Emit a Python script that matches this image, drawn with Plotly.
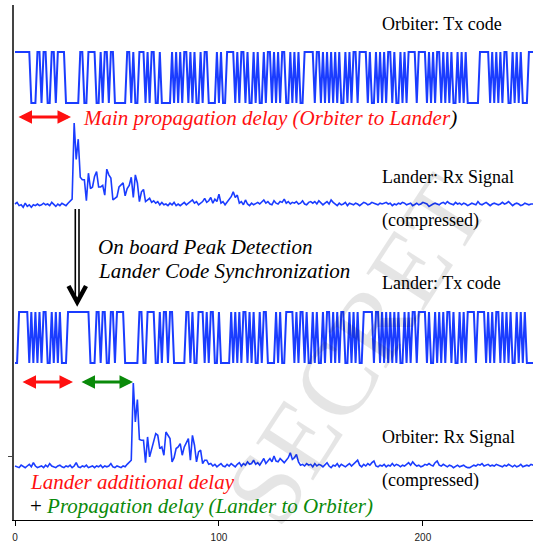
import plotly.graph_objects as go

# ---------------- data ----------------
ORBITER_TX_BITS = "".join((
    "11111111 000 11 0 11 00 11 0 1111 0000000 "
    "11 00 1111 00 1 0 11 0 11 000000 "
    "11 0 1 00 111 0 1 0 11 00 1 00000 "
    "1 0 1 0 1 0 11 0 1 0 1 00 1 0 11 0000 "
    "1 0 1 00 1111 0 1 0 11 0 1 00 1 0 "
    "1 00 1 0 11 0 1 0 1 0 11 00 1 0 1 0 1 00 "
    "11111 0 11 0 1 0 1 0 1 0 1 0 1 00 1 0 1 0 11 0 1111 0 1 00 1 0 1 0 1 0 11 0 1 00 1 0 1 0 "
    "1111 0 1111 0 1 0 1 0 11 0 1 0 1 0 1 00 1 0 1 0 1 000000 11111 0 1 0 1 0 1 0 11 00 1 0 1 0 1 000 111"
).split())

LANDER_TX_BITS = "".join((
    "00 11111 0 1 0 1 0 1 0 11 00 1 0 1 0 1 000 111 "
    "11111111 000 11 0 11 00 11 0 1111 0000000 "
    "11 00 1111 00 1 0 11 0 11 000000 "
    "11 0 1 00 111 0 1 0 11 00 1 00000 "
    "1 0 1 0 1 0 11 0 1 0 1 00 1 0 11 0000 "
    "1 0 1 00 1111 0 1 0 11 0 1 00 1 0 "
    "1 00 1 0 11 0 1 0 1 0 11 00 1 0 1 0 1 00 "
    "11111 0 11 0 1 0 1 0 1 0 1 0 1 00 1 0 1 0 11 0 1111 0 1 00 1 0 1 0 1 0 11 0 1 00 1 0 1 0 "
    "1111 0 1111 0 1 0 1 0 11 0 1 0 1 0 1 00 1 0 1 0 1 0000"
).split())

LANDER_RX = [
    0.00, 0.02, -0.02, -0.01, -0.04, 0.01, -0.03, -0.01, -0.04, -0.01,
    -0.02, 0.00, -0.02, -0.01, 0.01, -0.01, 0.00, -0.02, 0.02, -0.01,
    -0.03, 0.00, -0.02, 0.01, -0.01, -0.02, 0.01, 0.04, 0.06, 1.00,
    0.55, 0.80, 0.33, 0.30, 0.30, 0.04, 0.38, 0.19, 0.21, 0.34,
    0.40, 0.21, 0.21, 0.23, 0.11, 0.43, 0.36, 0.32, 0.05, 0.07,
    0.09, 0.21, 0.23, 0.26, 0.10, 0.19, 0.23, 0.33, 0.08, 0.36,
    0.26, 0.03, 0.15, 0.18, 0.03, 0.05, 0.07, 0.02, 0.04, 0.01,
    0.03, -0.01, 0.02, -0.01, 0.00, -0.02, 0.01, -0.01, 0.02, -0.02,
    0.00, -0.02, 0.00, 0.02, -0.01, 0.01, 0.03, 0.05, 0.01, 0.03,
    -0.01, 0.01, 0.03, 0.07, 0.02, 0.04, 0.08, 0.01, 0.06, 0.03,
    0.12, 0.01, 0.03, -0.01, 0.02, 0.05, 0.09, 0.15, 0.08, 0.11,
    0.01, 0.03, -0.01, 0.05, 0.00, -0.02, 0.01, -0.01, 0.01, 0.02,
    0.00, 0.02, 0.05, 0.01, 0.03, 0.00, -0.01, 0.04, 0.01, 0.00,
    0.03, 0.02, 0.06, 0.01, 0.03, 0.00, 0.02, 0.01, 0.03, 0.00,
    0.01, 0.04, 0.00, -0.01, 0.02, 0.03, 0.01, 0.03, 0.00, 0.04,
    0.02, -0.01, 0.01, 0.03, 0.00, 0.05, 0.02, 0.00, -0.02, 0.01,
    -0.01, 0.00, 0.02, -0.02, 0.01, 0.00, -0.01, 0.01, 0.00, -0.02,
    0.00, 0.02, 0.01, -0.01, 0.00, 0.02, 0.01, 0.00, -0.01, 0.01,
    0.00, 0.01, 0.02, 0.00, 0.01, -0.02, 0.00, -0.01, 0.01, 0.00,
    0.02, 0.01, -0.01, 0.00, 0.01, -0.02, 0.00, 0.01, -0.01, 0.00,
    0.02, 0.01, 0.00, -0.03, -0.01, 0.00, 0.01, 0.00, -0.01, 0.01,
    0.02, 0.00, 0.03, 0.01, 0.00, -0.01, 0.02, 0.00, 0.01, -0.01,
    0.01, 0.00, -0.02, 0.00, 0.01, 0.00, -0.01, 0.03, 0.00, -0.01,
    0.01, 0.02, 0.00, -0.02, 0.00, 0.01, 0.00, -0.01, 0.00, 0.02,
    0.00, 0.01, 0.03, 0.00, -0.02, 0.00, 0.01, 0.00, -0.02, -0.01,
    0.01, 0.00, -0.01, 0.00, 0.00,
]

ORBITER_RX = [
    0.00, -0.01, -0.02, 0.01, -0.01, -0.02, 0.00, 0.02, -0.01, 0.04,
    0.00, -0.02, -0.01, 0.00, -0.02, 0.01, -0.01, 0.03, 0.00, -0.01,
    -0.02, 0.00, 0.01, -0.01, -0.02, 0.00, -0.01, 0.01, -0.02, 0.00,
    0.04, -0.01, -0.02, 0.00, -0.01, 0.01, -0.02, -0.01, 0.00, -0.02,
    0.00, -0.01, 0.01, -0.02, 0.00, -0.01, 0.00, 0.03, -0.01, -0.02,
    0.00, -0.01, -0.02, 0.00, -0.01, 0.02, 0.04, 0.07, 1.00, 0.53,
    0.80, 0.32, 0.31, 0.31, 0.04, 0.35, 0.11, 0.21, 0.29, 0.39,
    0.37, 0.21, 0.23, 0.13, 0.41, 0.37, 0.33, 0.05, 0.10, 0.21,
    0.23, 0.27, 0.13, 0.23, 0.29, 0.33, 0.07, 0.37, 0.25, 0.05,
    0.17, 0.19, 0.03, 0.07, 0.07, 0.02, 0.03, 0.00, 0.02, -0.01,
    0.01, 0.03, 0.00, -0.01, 0.02, 0.00, 0.03, 0.01, -0.01, 0.02,
    0.04, 0.00, 0.03, 0.01, 0.05, 0.02, 0.03, 0.07, 0.02, 0.04,
    0.01, 0.05, 0.09, 0.03, 0.06, 0.09, 0.05, 0.12, 0.06, 0.05,
    0.09, 0.06, 0.04, 0.07, 0.10, 0.16, 0.08, 0.10, 0.14, 0.05,
    0.01, 0.02, 0.00, 0.03, 0.01, 0.02, -0.01, 0.03, 0.00, 0.02,
    0.01, -0.01, 0.02, 0.04, 0.00, -0.02, 0.01, 0.00, 0.03, -0.01,
    0.02, 0.00, -0.01, 0.01, 0.03, 0.00, 0.02, 0.05, 0.07, 0.01,
    -0.01, 0.02, 0.00, 0.03, 0.01, 0.04, 0.06, 0.00, -0.01, 0.01,
    0.00, 0.02, -0.01, 0.01, 0.00, 0.03, 0.00, 0.02, 0.01, -0.01,
    0.01, 0.00, 0.02, 0.04, 0.01, 0.05, 0.02, 0.00, 0.01, -0.01,
    0.00, 0.02, 0.01, 0.03, 0.01, 0.00, 0.04, 0.06, 0.01, 0.00,
    0.02, 0.00, -0.01, 0.01, 0.00, -0.02, 0.00, 0.01, -0.01, 0.00,
    0.01, -0.01, -0.02, -0.02, 0.00, 0.01, 0.00, 0.02, 0.01, 0.03,
    0.00, 0.01, 0.02, 0.00, 0.01, 0.00, 0.02, 0.01, 0.00, -0.01,
    0.01, 0.00, 0.02, 0.00, -0.01, 0.01, -0.01, 0.00, 0.02, -0.01,
    0.00, 0.01, 0.00, 0.02, 0.01,
]

X_TICKS = [0, 100, 200]
X_TICK_LABELS = ["0", "100", "200"]

# ---------------- layout helpers (pixel -> data) ----------------
W, H = 537, 547
ML, MR, MT, MB = 14, 4, 5, 27
XR = [-0.5, 254.0]
PX_PER_UNIT = (W - ML - MR) / (XR[1] - XR[0])


def X(px):
    return XR[0] + (px - ML) / PX_PER_UNIT


def Y(py):
    return (H - MB) - py


BLUE = "#1a3cff"
RED = "#ff1010"
GREEN = "#0a8a0a"
SERIF = "'Liberation Serif', 'Times New Roman', serif"

orb_tx = [int(c) for c in ORBITER_TX_BITS]
lan_tx = [int(c) for c in LANDER_TX_BITS]

fig = go.Figure()

# Orbiter Tx code: high at py 52, low at py 103
fig.add_trace(go.Scatter(x=list(range(len(orb_tx))), y=[Y(103) + b * (Y(52) - Y(103)) for b in orb_tx],
                         mode="lines", line=dict(color=BLUE, width=2)))
# Lander Rx: baseline py 204, peak py 123
fig.add_trace(go.Scatter(x=list(range(len(LANDER_RX))), y=[Y(204) + v * (Y(123) - Y(204)) for v in LANDER_RX],
                         mode="lines", line=dict(color=BLUE, width=1.6)))
# Lander Tx code: high py 312, low py 363
fig.add_trace(go.Scatter(x=list(range(len(lan_tx))), y=[Y(363) + b * (Y(312) - Y(363)) for b in lan_tx],
                         mode="lines", line=dict(color=BLUE, width=2)))
# Orbiter Rx: baseline py 466, peak py 383
fig.add_trace(go.Scatter(x=list(range(len(ORBITER_RX))), y=[Y(466) + v * (Y(383) - Y(466)) for v in ORBITER_RX],
                         mode="lines", line=dict(color=BLUE, width=1.6)))

annotations = []

# watermark
annotations.append(dict(x=X(355), y=Y(350), xref="x", yref="y", text="SECRET", showarrow=False,
                        textangle=-57, font=dict(family=SERIF, size=104, color="rgba(0,0,0,0.10)")))


def txt(px, py, text, size, color="black"):
    annotations.append(dict(x=X(px), y=Y(py), xref="x", yref="y", text=text, showarrow=False,
                            xanchor="left", yanchor="middle",
                            font=dict(family=SERIF, size=size, color=color)))


txt(380, 24, "Orbiter: Tx code", 18)
txt(81, 118, "<i><span style='color:%s'>Main propagation delay (Orbiter to Lander</span>)</i>" % RED, 21)
txt(380, 177, "Lander: Rx Signal", 18)
txt(380, 220, "(compressed)", 18)
txt(96, 247, "<i>On board Peak Detection</i>", 21)
txt(96, 271, "<i>Lander Code Synchronization</i>", 21)
txt(380, 283, "Lander: Tx code", 18)
txt(380, 437, "Orbiter: Rx Signal", 18)
txt(380, 480, "(compressed)", 18)
txt(28, 482, "<i>Lander additional delay</i>", 21, RED)
txt(28, 506, "+ <i><span style='color:%s'>Propagation delay (Lander to Orbiter)</span></i>" % GREEN, 21)


def dbl_arrow(px0, px1, py, color):
    annotations.append(dict(x=X(px1), y=Y(py), ax=X(px0), ay=Y(py), xref="x", yref="y",
                            axref="x", ayref="y", text="", showarrow=True,
                            arrowside="end+start", arrowhead=2, startarrowhead=2,
                            arrowsize=0.9, startarrowsize=0.9, arrowwidth=3,
                            arrowcolor=color, standoff=0, startstandoff=0))


dbl_arrow(17, 71, 117, RED)
dbl_arrow(21, 73, 382, RED)
dbl_arrow(80, 133, 382, GREEN)

shapes = [
    dict(type="line", xref="x", yref="y", x0=X(75.3), x1=X(75.3), y0=Y(209), y1=Y(299),
         line=dict(color="black", width=1.6)),
    dict(type="line", xref="x", yref="y", x0=X(79.0), x1=X(79.0), y0=Y(209), y1=Y(299),
         line=dict(color="black", width=1.6)),
    dict(type="path", xref="x", yref="y",
         path="M %f,%f L %f,%f L %f,%f" % (X(68.5), Y(286), X(77.2), Y(302), X(86), Y(286)),
         line=dict(color="black", width=4.5)),
]

fig.update_layout(
    width=W, height=H,
    margin=dict(l=ML, r=MR, t=MT, b=MB),
    paper_bgcolor="white", plot_bgcolor="white",
    showlegend=False,
    annotations=annotations,
    shapes=shapes,
    xaxis=dict(range=XR, showgrid=False, zeroline=False, showline=True, linecolor="black", linewidth=1,
               ticks="outside", ticklen=5, tickcolor="black", tickvals=X_TICKS, ticktext=X_TICK_LABELS,
               ticklabelstandoff=3,
               tickfont=dict(family="Liberation Sans", size=10, color="#222")),
    yaxis=dict(range=[0, H - MB - MT], showgrid=False, zeroline=False, showline=True, linecolor="#444",
               linewidth=2, ticks="outside", ticklen=4, tickcolor="#444", tickvals=[Y(456)],
               showticklabels=False),
)

fig.write_html("out.html", config={"displayModeBar": False},
               post_script="document.body.style.margin='0px';document.body.style.padding='0px';")
